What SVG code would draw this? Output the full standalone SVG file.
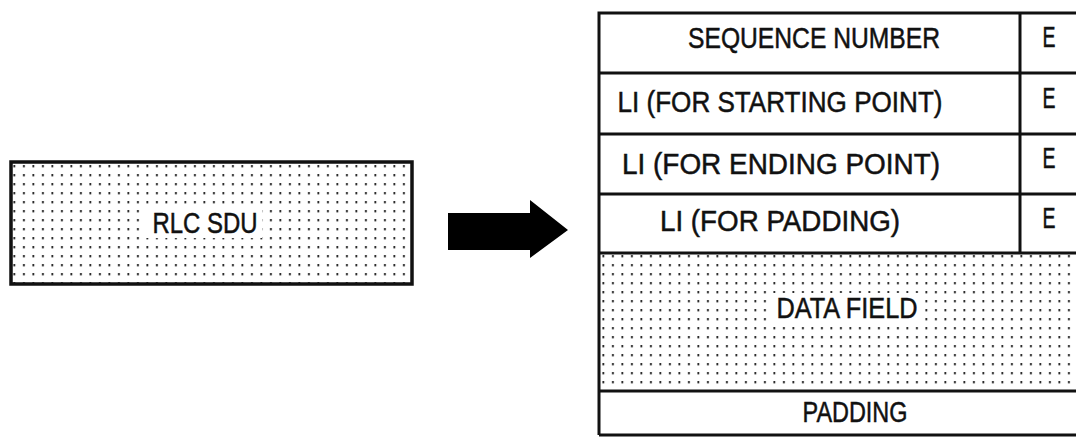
<svg xmlns="http://www.w3.org/2000/svg" width="1076" height="441" viewBox="0 0 1076 441">
<style>
.t{font-family:"Liberation Sans",Arial,sans-serif;font-size:29px;fill:#111;stroke:#111;stroke-width:0.5;text-anchor:middle}
.b{fill:none;stroke:#111;stroke-width:3.5}
.ln{stroke:#111;stroke-width:3;fill:none}
.dots{fill:url(#dot)}
</style>
<defs>
<pattern id="dot" width="9.5" height="9" patternUnits="userSpaceOnUse">
<rect x="4" y="3" width="1.8" height="2.4" fill="#222"/>
</pattern>
</defs>
<rect width="1076" height="441" fill="#fff"/>

<g id="rlc-sdu">
<rect x="11" y="162" width="401" height="122" class="dots"/>
<rect x="146" y="206" width="116" height="32" fill="#fff"/>
<rect x="11" y="162" width="401" height="122" class="b" stroke-width="3.8"/>
<text class="t" x="205" y="233" font-size="26" textLength="105" lengthAdjust="spacingAndGlyphs">RLC SDU</text>
</g>

<g id="connectors">
<path d="M448 213 L530 213 L530 200 L568 230 L530 258 L530 250 L448 250 Z" fill="#000"/>
</g>

<g id="pdu">
<path class="ln" d="M599 435 L599 13 L1076 13" stroke-width="3.8"/>
<path class="ln" d="M599 435 L1076 435"/>
<g id="seq-number">
<text class="t" x="814" y="48" textLength="252" lengthAdjust="spacingAndGlyphs">SEQUENCE NUMBER</text>
<text class="t" x="1049" y="47" textLength="13" lengthAdjust="spacingAndGlyphs">E</text>
</g>
<line class="ln" x1="599" y1="73" x2="1076" y2="73"/>
<g id="li-start">
<text class="t" x="780" y="112" textLength="325" lengthAdjust="spacingAndGlyphs">LI (FOR STARTING POINT)</text>
<text class="t" x="1049" y="108" textLength="13" lengthAdjust="spacingAndGlyphs">E</text>
</g>
<line class="ln" x1="599" y1="134" x2="1076" y2="134"/>
<g id="li-end">
<text class="t" x="781" y="174" textLength="318" lengthAdjust="spacingAndGlyphs">LI (FOR ENDING POINT)</text>
<text class="t" x="1049" y="168" textLength="13" lengthAdjust="spacingAndGlyphs">E</text>
</g>
<line class="ln" x1="599" y1="194" x2="1076" y2="194"/>
<g id="li-padding">
<text class="t" x="780" y="231" textLength="240" lengthAdjust="spacingAndGlyphs">LI (FOR PADDING)</text>
<text class="t" x="1049" y="228" textLength="13" lengthAdjust="spacingAndGlyphs">E</text>
</g>
<line class="ln" x1="1020" y1="13" x2="1020" y2="253" stroke-width="3.2"/>
<line class="ln" x1="599" y1="253" x2="1076" y2="253"/>
<g id="data-field">
<rect x="601" y="255" width="475" height="135" class="dots"/>
<rect x="770" y="293" width="155" height="32" fill="#fff"/>
<text class="t" x="847" y="318" textLength="141" lengthAdjust="spacingAndGlyphs">DATA FIELD</text>
</g>
<line class="ln" x1="599" y1="391" x2="1076" y2="391"/>
<g id="padding">
<text class="t" x="855" y="422" textLength="105" lengthAdjust="spacingAndGlyphs">PADDING</text>
</g>
</g>
</svg>
